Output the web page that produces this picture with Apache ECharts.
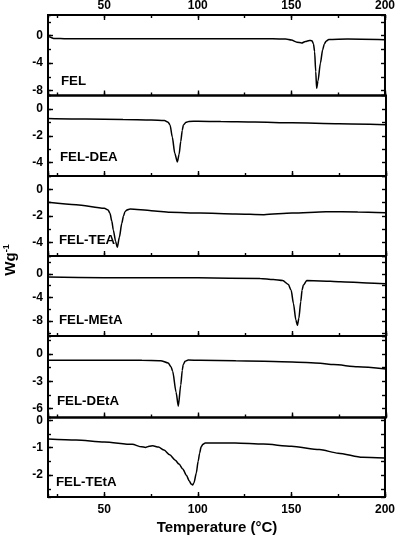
<!DOCTYPE html>
<html>
<head>
<meta charset="utf-8">
<script src="https://cdn.jsdelivr.net/npm/echarts@6/dist/echarts.min.js"></script>
<style>
html, body { margin: 0; padding: 0; background: #fff; }
#chart { width: 398px; height: 538px; }
</style>
</head>
<body>
<div id="chart"></div>
<script>
// sample names, one panel each (top to bottom)
const samples = ['FEL', 'FEL-DEA', 'FEL-TEA', 'FEL-MEtA', 'FEL-DEtA', 'FEL-TEtA'];

// DSC curves, [temperature °C, heat flow W/g]
const felCurve = [[20,-0.05],[21,-0.2],[23,-0.4],[30,-0.45],[60,-0.46],[100,-0.46],[140,-0.46],[147,-0.5],[150,-0.65],[153,-0.95],[155.5,-1.07],[157.5,-0.85],[159.6,-0.69],[161,-0.75],[161.8,-1.2],[162.4,-2.3],[163,-5.2],[163.5,-7.65],[164.2,-6.6],[165.5,-4.0],[166.7,-2.05],[167.6,-1.2],[168.5,-0.83],[170,-0.55],[180,-0.5],[200,-0.58]];
const deaCurve = [[20,-0.72],[40,-0.76],[60,-0.79],[75,-0.82],[82,-0.87],[84,-1.0],[85,-1.19],[86.2,-2.1],[87.5,-3.3],[88.9,-3.95],[89.8,-3.4],[90.7,-2.42],[91.5,-1.6],[92.1,-1.2],[93.5,-1.0],[95,-0.93],[100,-0.92],[112,-0.94],[130,-0.98],[150,-1.04],[175,-1.11],[200,-1.18]];
const teaCurve = [[20,-0.97],[35,-1.15],[50,-1.42],[52,-1.55],[53,-1.8],[54,-2.4],[54.8,-3.06],[56,-3.9],[56.9,-4.35],[58,-3.6],[59.3,-2.55],[60.2,-2.0],[61,-1.68],[62,-1.55],[63.7,-1.48],[75,-1.6],[85,-1.72],[101,-1.78],[120,-1.85],[135,-1.9],[150,-1.78],[168,-1.68],[185,-1.7],[200,-1.76]];
const metaCurve = [[20,-0.55],[50,-0.65],[100,-0.68],[133,-0.8],[140,-0.98],[145,-1.15],[148,-1.8],[149.5,-2.8],[150.7,-5.0],[152,-7.8],[152.8,-8.7],[153.6,-7.5],[154.6,-4.7],[155.3,-2.8],[156,-1.9],[157.8,-1.15],[165,-1.2],[175.6,-1.35],[190,-1.55],[200,-1.7]];
const detaCurve = [[20,-0.67],[50,-0.68],[70,-0.69],[80,-0.72],[84,-0.97],[85.5,-1.4],[86.4,-1.9],[88.2,-4.2],[89.4,-5.75],[90.7,-3.4],[91.5,-1.8],[92,-1.16],[93,-0.8],[94.7,-0.65],[101,-0.68],[120,-0.72],[150,-0.86],[165,-1.0],[172,-1.16],[185,-1.4],[200,-1.64]];
const tetaCurve = [[20,-0.68],[35,-0.72],[50,-0.79],[65,-0.88],[70,-0.97],[72,-0.99],[74,-0.95],[76,-0.93],[79,-0.98],[82,-1.09],[85,-1.26],[88,-1.46],[90,-1.6],[92,-1.78],[94,-2.02],[95.5,-2.22],[96.5,-2.33],[97.2,-2.36],[98,-2.28],[99.2,-1.93],[100.2,-1.5],[101,-1.2],[101.8,-0.97],[102.7,-0.88],[104,-0.83],[120,-0.83],[135,-0.87],[150,-0.95],[165,-1.07],[175,-1.2],[188,-1.35],[200,-1.38]];
const curves = [felCurve, deaCurve, teaCurve, metaCurve, detaCurve, tetaCurve];

// axis ranges and tick steps per panel
const yMin = [-8.7, -5, -5, -10.5, -7, -2.8];
const yMax = [3, 1, 1, 3, 2, 0.1];
const yStep = [4, 2, 2, 4, 3, 1];
const yMinorStep = [2, 1, 1, 2, 1.5, 0.5];
const xMin = 20, xMax = 200, xStep = 50, xMinorStep = 25;

const panelTops = [15, 95.5, 176, 256, 336, 417.5, 497];
const labelX = [61, 60, 59, 59, 57, 56];
const labelY = [81, 157, 240.5, 320.5, 401.5, 482];

const FONT = '"Liberation Sans", Arial, sans-serif';
const tickLine = { color: '#000', width: 1.4 };
const lblStyle = { color: '#000', fontWeight: 'bold', fontSize: 12, fontFamily: FONT };

const chart = echarts.init(document.getElementById('chart'));

const grids = [], xAxes = [], yAxes = [], series = [], texts = [];

function xAxis(i, pos, step, len, labels) {
  xAxes.push({
    gridIndex: i, type: 'value', position: pos, min: xMin, max: xMax,
    minInterval: step, maxInterval: step,
    axisLine: { show: false, onZero: false },
    splitLine: { show: false },
    axisTick: { show: true, inside: true, length: len, lineStyle: tickLine },
    axisLabel: labels ? Object.assign({ show: true, margin: pos === 'top' ? 3 : 7, showMinLabel: false, showMaxLabel: true }, lblStyle) : { show: false }
  });
  return xAxes.length - 1;
}

function yAxis(i, pos, step, len, labels) {
  yAxes.push({
    gridIndex: i, type: 'value', position: pos, min: yMin[i], max: yMax[i],
    minInterval: step, maxInterval: step,
    axisLine: { show: false, onZero: false },
    splitLine: { show: false },
    axisTick: { show: true, inside: true, length: len, lineStyle: tickLine },
    axisLabel: labels ? Object.assign({ show: true, margin: 5, showMinLabel: false, showMaxLabel: false }, lblStyle) : { show: false }
  });
  return yAxes.length - 1;
}

samples.forEach((name, i) => {
  grids.push({
    left: 48, right: 12, top: panelTops[i], height: panelTops[i + 1] - panelTops[i],
    show: true, borderColor: '#000', borderWidth: 2, backgroundColor: 'transparent'
  });
  const last = i === samples.length - 1;
  const xi = xAxis(i, 'bottom', xStep, 5, last);
  xAxis(i, 'bottom', xMinorStep, 3, false);
  if (i === 0) {
    xAxis(i, 'top', xStep, 5, true);
    xAxis(i, 'top', xMinorStep, 3, false);
  }
  const yi = yAxis(i, 'left', yStep[i], 5, true);
  yAxis(i, 'left', yMinorStep[i], 3, false);
  yAxis(i, 'right', yMinorStep[i], 4, false);

  series.push({
    name: name, type: 'line', xAxisIndex: xi, yAxisIndex: yi,
    data: curves[i], showSymbol: false, smooth: 0.25, smoothMonotone: 'x',
    lineStyle: { color: '#000', width: 1.5 }, silent: true
  });

  texts.push({
    type: 'text', x: labelX[i], y: labelY[i],
    style: { text: name, fill: '#000', font: 'bold 13.3px ' + FONT, verticalAlign: 'middle' }
  });
});

texts.push({
  type: 'text', x: 217, y: 528,
  style: { text: 'Temperature (°C)', fill: '#000', font: 'bold 15px ' + FONT, align: 'center', verticalAlign: 'middle' }
});
texts.push({
  type: 'text', x: 11, y: 260, rotation: Math.PI / 2,
  style: {
    text: '{a|Wg}{b|-1}', align: 'center', verticalAlign: 'middle',
    rich: {
      a: { fontSize: 15, fontWeight: 'bold', fontFamily: FONT, fill: '#000', lineHeight: 18 },
      b: { fontSize: 9, fontWeight: 'bold', fontFamily: FONT, fill: '#000', verticalAlign: 'top', lineHeight: 18, padding: [0, 0, 10, 0] }
    }
  }
});

chart.setOption({
  animation: false,
  backgroundColor: '#fff',
  grid: grids,
  xAxis: xAxes,
  yAxis: yAxes,
  series: series,
  graphic: texts
});
</script>
</body>
</html>
